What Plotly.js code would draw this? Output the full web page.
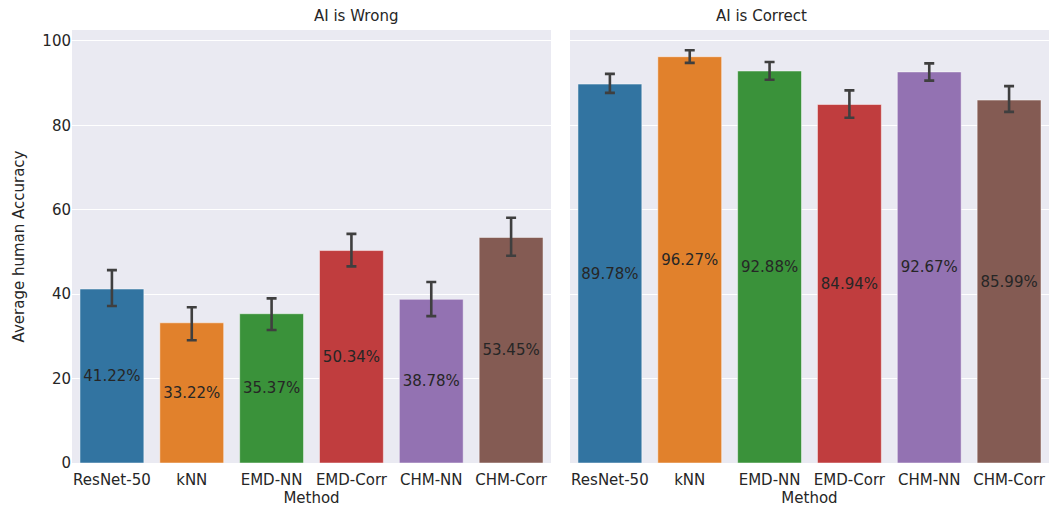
<!DOCTYPE html>
<html>
<head>
<meta charset="utf-8">
<script src="https://cdn.plot.ly/plotly-3.0.1.min.js"></script>
<style>html,body{margin:0;padding:0;background:#fff;}#chart{width:1051px;height:512px;}</style>
</head>
<body>
<div id="chart"></div>
<script>
const methods = ["ResNet-50", "kNN", "EMD-NN", "EMD-Corr", "CHM-NN", "CHM-Corr"];
const colors = ["#3274a1", "#e1812c", "#3a923a", "#c03d3e", "#9372b2", "#845b53"];

const wrongValues = [41.22, 33.22, 35.37, 50.34, 38.78, 53.45];
const wrongUpper  = [45.7, 36.9, 39.0, 54.3, 42.9, 58.1];
const wrongLower  = [37.2, 29.1, 31.5, 46.6, 34.8, 49.1];

const correctValues = [89.78, 96.27, 92.88, 84.94, 92.67, 85.99];
const correctUpper  = [92.2, 97.8, 95.0, 88.3, 94.7, 89.3];
const correctLower  = [87.7, 94.8, 90.8, 81.8, 90.6, 83.2];

const panelTitles = ["AI is Wrong", "AI is Correct"];

function makeTrace(vals, up, lo, xa, ya) {
  return {
    type: "bar",
    x: methods,
    y: vals,
    xaxis: xa, yaxis: ya,
    marker: {color: colors, line: {color: "rgba(255,255,255,0.6)", width: 0.8}},
    text: vals.map(v => v.toFixed(2) + "%"),
    textposition: "inside",
    insidetextanchor: "middle",
    textangle: 0,
    textfont: {family: "DejaVu Sans", size: 15, color: "#262626"},
    constraintext: "none",
    error_y: {
      type: "data", symmetric: false,
      array: up.map((u, i) => u - vals[i]),
      arrayminus: lo.map((l, i) => vals[i] - l),
      color: "#3f3f3f", thickness: 2.6, width: 5
    },
    hoverinfo: "none",
    showlegend: false
  };
}

const data = [
  makeTrace(wrongValues, wrongUpper, wrongLower, "x", "y"),
  makeTrace(correctValues, correctUpper, correctLower, "x2", "y2")
];

const font = {family: "DejaVu Sans", size: 15, color: "#262626"};
const xBase = {
  type: "category", range: [-0.5, 5.5], showgrid: false, zeroline: false,
  ticks: "", tickfont: font, showline: false, fixedrange: true,
  ticklabelstandoff: 6,
  title: {text: "Method", font: font, standoff: 4}
};
const yBase = {
  range: [0, 102.6], dtick: 20, gridcolor: "#ffffff", gridwidth: 1,
  zeroline: false, showline: false, ticks: "", tickfont: font
};

const layout = {
  width: 1051, height: 512,
  margin: {l: 72, r: 2, t: 30, b: 49},
  paper_bgcolor: "#ffffff",
  plot_bgcolor: "#eaeaf2",
  font: font,
  bargap: 0.2,
  xaxis: Object.assign({}, xBase, {domain: [0, 0.4903], anchor: "y"}),
  xaxis2: Object.assign({}, xBase, {domain: [0.5097, 1], anchor: "y2"}),
  yaxis: Object.assign({}, yBase, {anchor: "x", title: {text: "Average human Accuracy", font: font, standoff: 14}}),
  yaxis2: Object.assign({}, yBase, {anchor: "x2", showticklabels: false}),
  annotations: [
    {text: panelTitles[0], xref: "paper", yref: "paper", x: 0.4903 / 2, y: 1, yanchor: "bottom", yshift: 3, showarrow: false, font: font},
    {text: panelTitles[1], xref: "paper", yref: "paper", x: (0.5097 + 1) / 2, y: 1, yanchor: "bottom", yshift: 3, showarrow: false, font: font}
  ]
};

Plotly.newPlot("chart", data, layout, {displayModeBar: false, staticPlot: true});
</script>
</body>
</html>
